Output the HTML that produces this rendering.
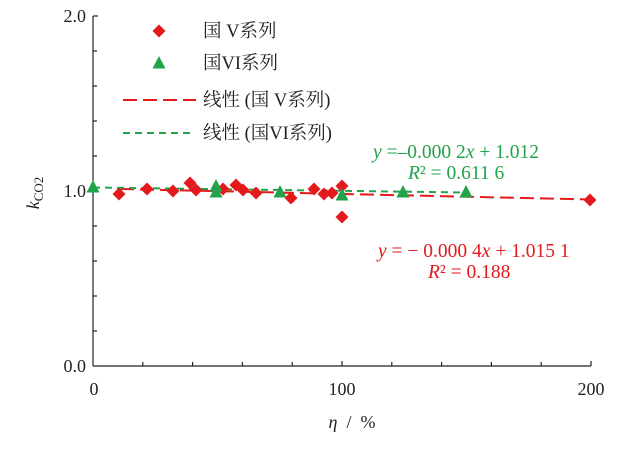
<!DOCTYPE html>
<html><head><meta charset="utf-8"><style>
html,body{margin:0;padding:0;background:#fff;}
svg text{font-family:"Liberation Serif","Noto Serif CJK SC",serif;}
</style></head><body>
<svg width="624" height="448" viewBox="0 0 624 448" xmlns="http://www.w3.org/2000/svg">
<defs>
<path id="d" d="M0,-6.5 L6.5,0 L0,6.5 L-6.5,0 Z" fill="#e3191c"/>
<path id="t" d="M0,-7 L6.5,5.5 L-6.5,5.5 Z" fill="#22a34a"/>
</defs>
<g stroke="#222" stroke-width="1.2" fill="none">
<line x1="93" y1="16" x2="93" y2="366"/>
<line x1="93" y1="366" x2="591" y2="366"/>
<line x1="93" y1="16" x2="98" y2="16"/>
<line x1="93" y1="51" x2="97" y2="51"/>
<line x1="93" y1="86" x2="97" y2="86"/>
<line x1="93" y1="121" x2="97" y2="121"/>
<line x1="93" y1="156" x2="97" y2="156"/>
<line x1="93" y1="191" x2="98" y2="191"/>
<line x1="93" y1="226" x2="97" y2="226"/>
<line x1="93" y1="261" x2="97" y2="261"/>
<line x1="93" y1="296" x2="97" y2="296"/>
<line x1="93" y1="331" x2="97" y2="331"/>
<line x1="142.8" y1="366" x2="142.8" y2="362"/>
<line x1="192.6" y1="366" x2="192.6" y2="362"/>
<line x1="242.4" y1="366" x2="242.4" y2="362"/>
<line x1="292.2" y1="366" x2="292.2" y2="362"/>
<line x1="342" y1="366" x2="342" y2="361"/>
<line x1="391.8" y1="366" x2="391.8" y2="362"/>
<line x1="441.6" y1="366" x2="441.6" y2="362"/>
<line x1="491.4" y1="366" x2="491.4" y2="362"/>
<line x1="541.2" y1="366" x2="541.2" y2="362"/>
<line x1="591" y1="366" x2="591" y2="361"/>
</g>
<g font-size="18" fill="#222">
<text x="86" y="22" text-anchor="end">2.0</text>
<text x="86" y="197" text-anchor="end">1.0</text>
<text x="86" y="372" text-anchor="end">0.0</text>
<text x="94" y="395" text-anchor="middle">0</text>
<text x="342" y="395" text-anchor="middle">100</text>
<text x="591" y="395" text-anchor="middle">200</text>
<text x="352" y="428" text-anchor="middle" xml:space="preserve"><tspan font-style="italic">η</tspan>  /  %</text>
<text transform="translate(39,193) rotate(-90)" text-anchor="middle"><tspan font-style="italic">k</tspan><tspan font-size="13" dy="4">CO2</tspan></text>
</g>
<line x1="120" y1="189" x2="591" y2="199.5" stroke="#e3191c" stroke-width="2" stroke-dasharray="14,6"/>
<line x1="93" y1="187.5" x2="466" y2="192.5" stroke="#22a34a" stroke-width="2" stroke-dasharray="7,5"/>
<g>
<use href="#d" x="119" y="194"/><use href="#d" x="147" y="189"/><use href="#d" x="173" y="191"/>
<use href="#d" x="190" y="183"/><use href="#d" x="196" y="190"/><use href="#d" x="223" y="189"/>
<use href="#d" x="236" y="185"/><use href="#d" x="243" y="190"/><use href="#d" x="256" y="193"/>
<use href="#d" x="291" y="198"/><use href="#d" x="314" y="189"/><use href="#d" x="324" y="194"/>
<use href="#d" x="332" y="193"/><use href="#d" x="342" y="186"/><use href="#d" x="342" y="217"/>
<use href="#d" x="590" y="200"/>
<use href="#t" x="93" y="187"/><use href="#t" x="216" y="186"/><use href="#t" x="216" y="192"/>
<use href="#t" x="280" y="192"/><use href="#t" x="342" y="195"/><use href="#t" x="403" y="192"/><use href="#t" x="466" y="192"/>
</g>
<g font-size="18.5" fill="#222">
<use href="#d" x="159" y="31"/>
<text x="203" y="37">国 V系列</text>
<use href="#t" x="159" y="63"/>
<text x="203" y="69">国VI系列</text>
<line x1="123" y1="100" x2="196" y2="100" stroke="#e3191c" stroke-width="2" stroke-dasharray="14,6"/>
<text x="203" y="106">线性 (国 V系列)</text>
<line x1="123" y1="133" x2="190" y2="133" stroke="#22a34a" stroke-width="2" stroke-dasharray="7,5"/>
<text x="203" y="139">线性 (国VI系列)</text>
</g>
<g font-size="19.5">
<text x="373" y="158" fill="#22a34a"><tspan font-style="italic">y</tspan> =–0.000 2<tspan font-style="italic">x</tspan> + 1.012</text>
<text x="408" y="179" fill="#22a34a"><tspan font-style="italic">R</tspan>² = 0.611 6</text>
<text x="378" y="257" fill="#e3191c"><tspan font-style="italic">y</tspan> = − 0.000 4<tspan font-style="italic">x</tspan> + 1.015 1</text>
<text x="428" y="278" fill="#e3191c"><tspan font-style="italic">R</tspan>² = 0.188</text>
</g>
</svg>
</body></html>
